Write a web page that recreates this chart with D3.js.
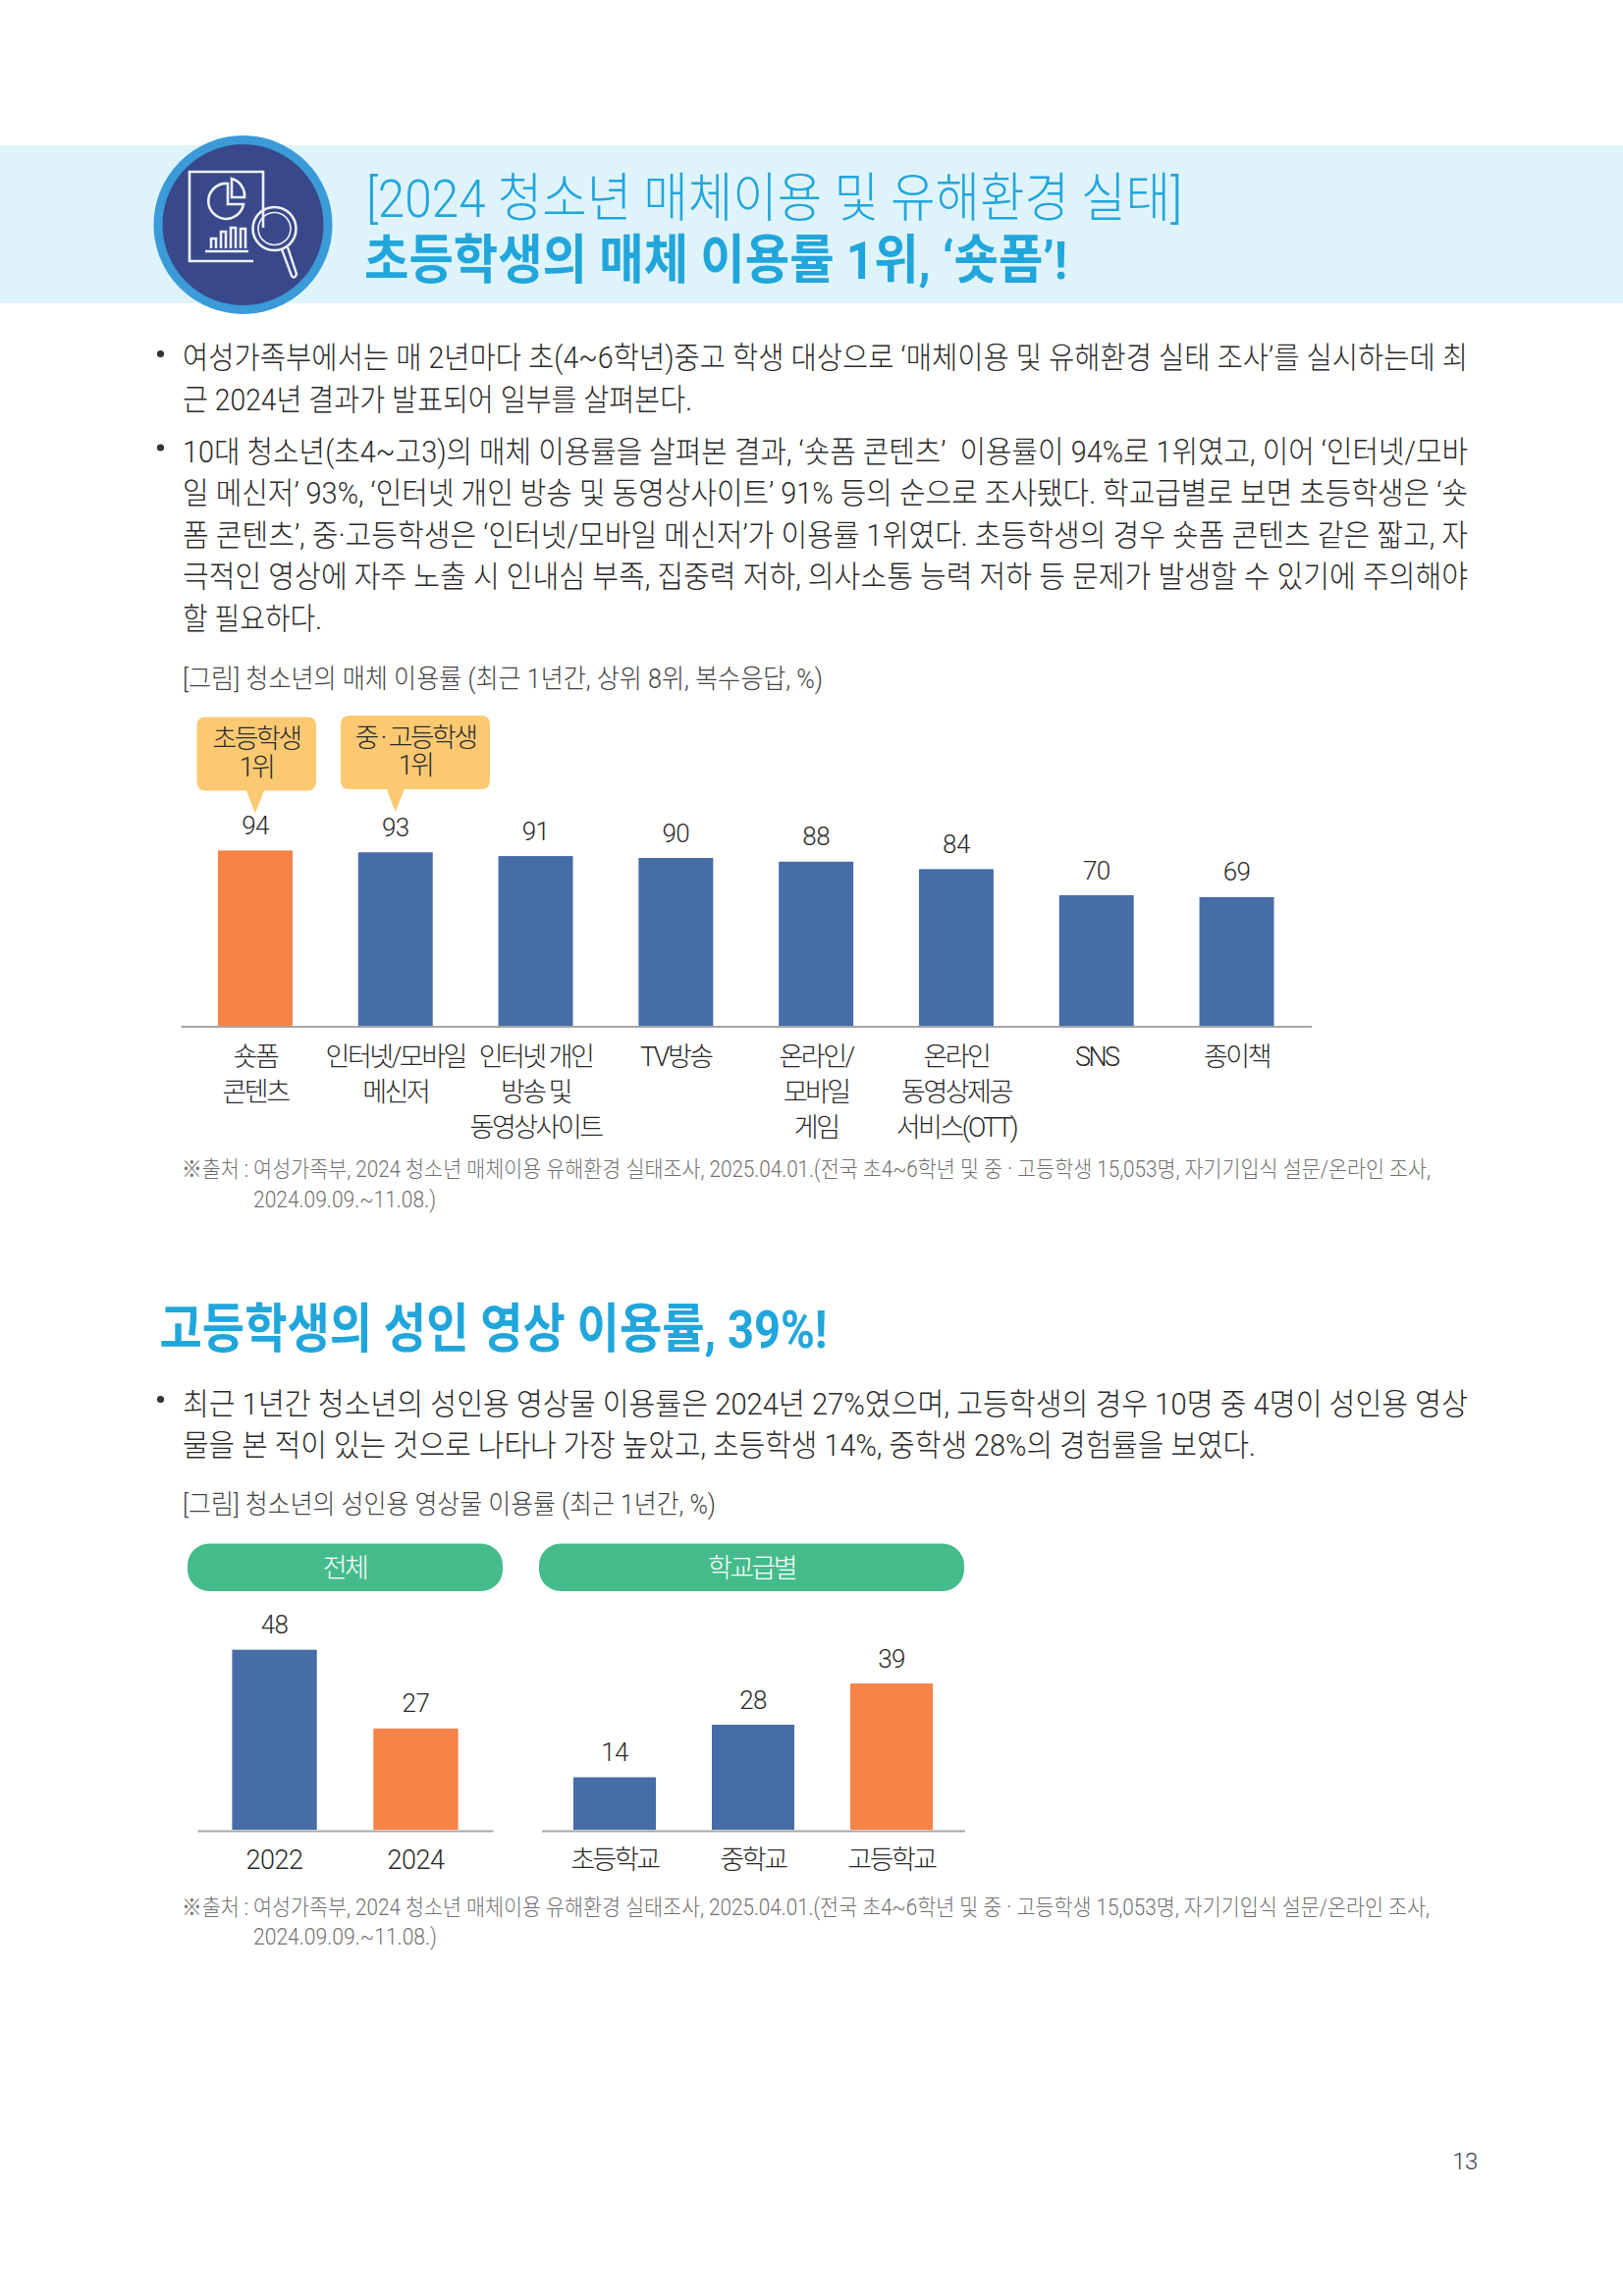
<!DOCTYPE html>
<html lang="ko">
<head>
<meta charset="utf-8">
<title>2024 청소년 매체이용 및 유해환경 실태</title>
<script src="https://cdn.jsdelivr.net/npm/d3@7"></script>
<style>
  html, body { margin: 0; padding: 0; background: #fff; }
  svg { display: block; }
  text { font-family: Roboto, "Noto Sans CJK KR", sans-serif; }
  .axis .domain { stroke: #a6a6a6; stroke-width: 2; }
</style>
</head>
<body>
<script>
// chart data
const mediaCategories = ['숏폼 콘텐츠', '인터넷/모바일 메신저', '인터넷 개인 방송 및 동영상사이트', 'TV방송', '온라인/모바일 게임', '온라인 동영상제공 서비스(OTT)', 'SNS', '종이책'];
const mediaLabelLines = [['숏폼', '콘텐츠'], ['인터넷/모바일', '메신저'], ['인터넷 개인', '방송 및', '동영상사이트'], ['TV방송'], ['온라인/', '모바일', '게임'], ['온라인', '동영상제공', '서비스(OTT)'], ['SNS'], ['종이책']];
const mediaValues = [94, 93, 91, 90, 88, 84, 70, 69];
const mediaColors = ['orange', 'blue', 'blue', 'blue', 'blue', 'blue', 'blue', 'blue'];

const totalYears = ['2022', '2024'];
const totalValues = [48, 27];
const totalColors = ['blue', 'orange'];

const schoolLevels = ['초등학교', '중학교', '고등학교'];
const schoolValues = [14, 28, 39];
const schoolColors = ['blue', 'blue', 'orange'];

// page text: [string, width the line is set to]
const para1 = [
  ['여성가족부에서는 매 2년마다 초(4~6학년)중고 학생 대상으로 ‘매체이용 및 유해환경 실태 조사’를 실시하는데 최', 1309],
  ['근 2024년 결과가 발표되어 일부를 살펴본다.', 519],
];
const para2 = [
  ['10대 청소년(초4~고3)의 매체 이용률을 살펴본 결과, ‘숏폼 콘텐츠’  이용률이 94%로 1위였고, 이어 ‘인터넷/모바', 1309],
  ['일 메신저’ 93%, ‘인터넷 개인 방송 및 동영상사이트’ 91% 등의 순으로 조사됐다. 학교급별로 보면 초등학생은 ‘숏', 1309],
  ['폼 콘텐츠’, 중·고등학생은 ‘인터넷/모바일 메신저’가 이용률 1위였다. 초등학생의 경우 숏폼 콘텐츠 같은 짧고, 자', 1309],
  ['극적인 영상에 자주 노출 시 인내심 부족, 집중력 저하, 의사소통 능력 저하 등 문제가 발생할 수 있기에 주의해야', 1309],
  ['할 필요하다.', 142],
];
const para3 = [
  ['최근 1년간 청소년의 성인용 영상물 이용률은 2024년 27%였으며, 고등학생의 경우 10명 중 4명이 성인용 영상', 1309],
  ['물을 본 적이 있는 것으로 나타나 가장 높았고, 초등학생 14%, 중학생 28%의 경험률을 보였다.', 1093],
];
const sourceLine1 = '※출처 : 여성가족부, 2024 청소년 매체이용 유해환경 실태조사, 2025.04.01.(전국 초4~6학년 및 중 · 고등학생 15,053명, 자기기입식 설문/온라인 조사,';
const sourceLine2 = '2024.09.09.~11.08.)';

const palette = { blue: '#466da8', orange: '#f68347' };
const accent = '#21a6dc';
const ink = '#2b2b2b';

const svg = d3.select('body').append('svg')
  .attr('width', 1653)
  .attr('height', 2339);

// Every long line is fitted to the width it has in the layout.
function line(x, y, str, size, width, opts) {
  const o = opts || {};
  const t = svg.append('text')
    .attr('x', x)
    .attr('y', y)
    .attr('font-size', size)
    .attr('font-weight', o.weight || 300)
    .attr('fill', o.fill || ink)
    .attr('text-anchor', o.anchor || 'start')
    .attr('xml:space', 'preserve')
    .text(str);
  if (width) {
    t.attr('textLength', width).attr('lengthAdjust', 'spacingAndGlyphs');
  }
  return t;
}

function bullet(y) {
  svg.append('circle').attr('cx', 163.5).attr('cy', y).attr('r', 3.6).attr('fill', '#333');
}

function paragraph(lines, y0) {
  lines.forEach((d, i) => line(186, y0 + i * 42.6, d[0], 31, d[1]));
}

// header band
svg.append('rect').attr('x', 0).attr('y', 148).attr('width', 1653).attr('height', 161).attr('fill', '#dff3fa');
line(373, 220.5, '[2024 청소년 매체이용 및 유해환경 실태]', 54, 831, { fill: accent });
line(371, 284, '초등학생의 매체 이용률 1위, ‘숏폼’!', 54, 716, { fill: accent, weight: 700 });

// header icon
const icon = svg.append('g').attr('fill', 'none').attr('stroke', '#eef0f6').attr('stroke-width', 2.6);
svg.insert('circle', 'g').attr('cx', 247.5).attr('cy', 229).attr('r', 86.5).attr('fill', '#39488a').attr('stroke', '#3a9bd8').attr('stroke-width', 9);
icon.append('path').attr('d', 'M268 232V175H193V266H258');
icon.append('path').attr('d', 'M232 187A18 18 0 1 0 248 208H232Z');
icon.append('path').attr('d', 'M236 182A18 18 0 0 1 249 201H236Z');
icon.append('path').attr('d', 'M209 256H253M215 253V243H220V253M225 253V236H230V253M235 253V232H240V253M245 253V233H250V253');
icon.append('circle').attr('cx', 279.5).attr('cy', 233).attr('r', 22);
icon.append('circle').attr('cx', 279.5).attr('cy', 233).attr('r', 16.5).attr('stroke-width', 1.6);
icon.append('path').attr('d', 'M287 254L297 281Q300 285 302 279L293 252').attr('stroke-width', 2.4);

// first section text
bullet(360.5);
paragraph(para1, 375);
bullet(456);
paragraph(para2, 470.5);
line(186, 700.7, '[그림] 청소년의 매체 이용률 (최근 1년간, 상위 8위, 복수응답, %)', 27, 652, { fill: '#444' });

// Bars, value labels and bottom axis for one chart.
function barChart({ categories, values, colors, x, y, base, labelLines, labelBaselines, labelSpacing }) {
  svg.append('g').selectAll('rect')
    .data(values)
    .join('rect')
    .attr('x', (d, i) => x(categories[i]))
    .attr('y', d => y(d))
    .attr('width', x.bandwidth())
    .attr('height', d => y(0) - y(d))
    .attr('fill', (d, i) => palette[colors[i]]);

  svg.append('g').selectAll('text')
    .data(values)
    .join('text')
    .attr('x', (d, i) => x(categories[i]) + x.bandwidth() / 2)
    .attr('y', d => y(d) - 16.5)
    .attr('text-anchor', 'middle')
    .attr('font-size', 26)
    .attr('font-weight', 300)
    .attr('fill', ink)
    .style('letter-spacing', '-0.6px')
    .text(d => d);

  const axis = svg.append('g')
    .attr('class', 'axis')
    .attr('transform', `translate(0,${base})`)
    .call(d3.axisBottom(x).tickSize(0).tickSizeOuter(0));

  axis.selectAll('.tick text')
    .attr('y', 0)
    .attr('dy', null)
    .attr('fill', ink)
    .attr('font-size', 27)
    .attr('font-weight', 300)
    .style('letter-spacing', labelSpacing)
    .each(function (d, i) {
      const node = d3.select(this).text(null);
      labelLines[i].forEach((s, j) => {
        node.append('tspan')
          .attr('x', 0)
          .attr('y', labelBaselines[j])
          .text(s);
      });
    });
}

// media use chart
const xMedia = d3.scaleBand()
  .domain(mediaCategories)
  .range([184, 1335.5])
  .paddingInner(0.468)
  .paddingOuter(0.266);
const yMedia = d3.scaleLinear().domain([0, 100]).range([1045, 855]);

barChart({
  categories: mediaCategories,
  values: mediaValues,
  colors: mediaColors,
  x: xMedia,
  y: yMedia,
  base: 1045.5,
  labelLines: mediaLabelLines,
  labelBaselines: [40.5, 76.5, 112.5],
  labelSpacing: '-2.5px',
});

// Callouts hang off the two first-ranked bars.
function callout(cat, bx0, bx1, by0, by1, lines, textX, baselines) {
  const tipX = xMedia(cat) + xMedia.bandwidth() / 2;
  const tipY = by1 + 23;
  const r = 9;
  svg.append('path')
    .attr('fill', '#fbc972')
    .attr('d', `M${bx0 + r} ${by0}H${bx1 - r}Q${bx1} ${by0} ${bx1} ${by0 + r}V${by1 - r}Q${bx1} ${by1} ${bx1 - r} ${by1}`
      + `H${tipX + 9}L${tipX} ${tipY}L${tipX - 9} ${by1}H${bx0 + r}Q${bx0} ${by1} ${bx0} ${by1 - r}V${by0 + r}Q${bx0} ${by0} ${bx0 + r} ${by0}Z`);
  lines.forEach((s, i) => {
    line(textX, baselines[i], s, 27, null, { anchor: 'middle' }).style('letter-spacing', '-2.6px');
  });
}
callout(mediaCategories[0], 200.5, 322, 730.5, 805.5, ['초등학생', '1위'], 261, [761.5, 790.5]);
callout(mediaCategories[1], 347, 499, 729, 804, ['중 · 고등학생', '1위'], 423, [760.5, 789]);

line(185, 1199.3, sourceLine1, 23, 1272, { fill: '#707070' });
line(258, 1230, sourceLine2, 23, 186, { fill: '#707070' });

// second section text
line(162.5, 1373, '고등학생의 성인 영상 이용률, 39%!', 54, 680, { fill: accent, weight: 700 });
bullet(1425.5);
paragraph(para3, 1440.5);
line(186, 1541.7, '[그림] 청소년의 성인용 영상물 이용률 (최근 1년간, %)', 27, 543, { fill: '#444' });

// pill headers
[['전체', 191, 512, 351], ['학교급별', 549, 982, 765.5]].forEach(([label, x0, x1, cx]) => {
  svg.append('rect')
    .attr('x', x0).attr('y', 1572.5)
    .attr('width', x1 - x0).attr('height', 48.5)
    .attr('rx', 22).attr('fill', '#45bb8b');
  line(cx, 1606.5, label, 27, null, { anchor: 'middle', fill: '#fff' }).style('letter-spacing', '-2.6px');
});

// adult content charts
const yAdult = d3.scaleLinear().domain([0, 50]).range([1864, 1673]);
const xTotal = d3.scaleBand()
  .domain(totalYears)
  .range([201, 502])
  .paddingInner(0.4)
  .paddingOuter(0.246);
const xSchool = d3.scaleBand()
  .domain(schoolLevels)
  .range([551.5, 982.5])
  .paddingInner(0.404)
  .paddingOuter(0.23);

barChart({
  categories: totalYears,
  values: totalValues,
  colors: totalColors,
  x: xTotal,
  y: yAdult,
  base: 1865,
  labelLines: totalYears.map(d => [d]),
  labelBaselines: [38.5],
  labelSpacing: '-0.5px',
});
barChart({
  categories: schoolLevels,
  values: schoolValues,
  colors: schoolColors,
  x: xSchool,
  y: yAdult,
  base: 1865,
  labelLines: schoolLevels.map(d => [d]),
  labelBaselines: [38.5],
  labelSpacing: '-2.5px',
});

line(185, 1951, sourceLine1, 23, 1271, { fill: '#707070' });
line(258, 1981, sourceLine2, 23, 187, { fill: '#707070' });

// page number
line(1492, 2210, '13', 24, null, { anchor: 'middle', fill: '#3a3f4a' }).style('letter-spacing', '-0.5px');
</script>
</body>
</html>
